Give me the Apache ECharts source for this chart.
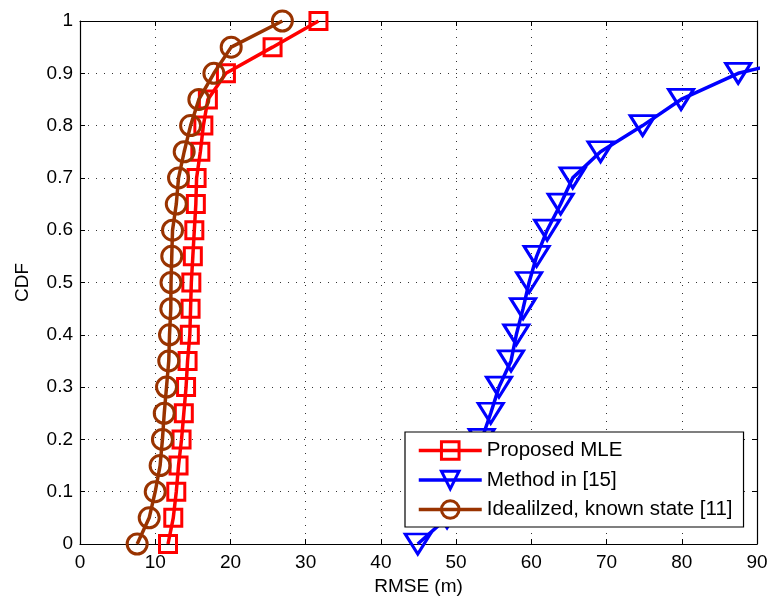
<!DOCTYPE html>
<html>
<head>
<meta charset="utf-8">
<script src="https://cdn.jsdelivr.net/npm/echarts@6/dist/echarts.min.js"></script>
<style>
html,body{margin:0;padding:0;background:#fff;}
#chart{width:771px;height:601px;}
</style>
</head>
<body>
<div id="chart"></div>
<script>
// CDF levels (y values)
var cdfLevels = [0, 0.05, 0.1, 0.15, 0.2, 0.25, 0.3, 0.35, 0.4, 0.45, 0.5, 0.55, 0.6, 0.65, 0.7, 0.75, 0.8, 0.85, 0.9, 0.95, 1];
// RMSE values (x) for each series
var proposedMLE = [11.7, 12.4, 12.8, 13.1, 13.5, 13.8, 14.1, 14.3, 14.6, 14.7, 14.8, 15.0, 15.2, 15.4, 15.5, 16.0, 16.4, 17.0, 19.4, 25.6, 31.7];
var method15 = [44.9, 48.8, 50.5, 52.2, 53.4, 54.6, 55.7, 57.3, 58.0, 58.9, 59.7, 60.7, 62.1, 63.9, 65.5, 69.2, 74.8, 79.9, 87.5, 102, 125];
var idealized11 = [7.6, 9.2, 10.0, 10.65, 10.96, 11.2, 11.5, 11.8, 11.9, 12.07, 12.1, 12.2, 12.3, 12.8, 13.1, 13.85, 14.7, 15.8, 17.8, 20.1, 26.9];
var seriesNames = ['Proposed MLE', 'Method in [15]', 'Idealilzed, known state [11]'];
var xTicks = [0, 10, 20, 30, 40, 50, 60, 70, 80, 90];
var yTicks = [0, 0.1, 0.2, 0.3, 0.4, 0.5, 0.6, 0.7, 0.8, 0.9, 1];

function pairs(xs) {
  return xs.map(function (x, i) { return [x, cdfLevels[i]]; });
}

var FONT = 'Liberation Sans, Arial, Helvetica, sans-serif';
var FS = 19;

var chart = echarts.init(document.getElementById('chart'), null, {renderer: 'canvas'});

var gridLine = {show: true, lineStyle: {type: [1, 7], color: '#333', width: 1}};

var option = {
  animation: false,
  backgroundColor: '#fff',
  grid: {left: 80, right: 14, top: 21, bottom: 55, containLabel: false},
  xAxis: [{
    type: 'value', min: xTicks[0], max: xTicks[xTicks.length - 1], interval: 10,
    name: 'RMSE (m)', nameLocation: 'middle', nameGap: 33,
    nameTextStyle: {fontFamily: FONT, fontSize: FS, color: '#000'},
    axisLine: {show: true, onZero: false, lineStyle: {color: '#000', width: 1.2}},
    axisTick: {show: true, inside: true, length: 5, lineStyle: {color: '#000'}},
    axisLabel: {fontFamily: FONT, fontSize: FS, color: '#000', margin: 9},
    splitLine: gridLine
  }, {
    type: 'value', position: 'top', min: xTicks[0], max: xTicks[xTicks.length - 1], interval: 10,
    axisLine: {show: true, onZero: false, lineStyle: {color: '#000', width: 1.2}},
    axisTick: {show: true, inside: true, length: 5, lineStyle: {color: '#000'}},
    axisLabel: {show: false},
    splitLine: {show: false}
  }],
  yAxis: [{
    type: 'value', min: yTicks[0], max: yTicks[yTicks.length - 1], interval: 0.1,
    name: 'CDF', nameLocation: 'middle', nameGap: 48, nameRotate: 90,
    nameTextStyle: {fontFamily: FONT, fontSize: FS, color: '#000'},
    axisLine: {show: true, onZero: false, lineStyle: {color: '#000', width: 1.2}},
    axisTick: {show: true, inside: true, length: 5, lineStyle: {color: '#000'}},
    axisLabel: {fontFamily: FONT, fontSize: FS, color: '#000', margin: 7,
      formatter: function (v) { return String(Math.round(v * 10) / 10); }},
    splitLine: gridLine
  }, {
    type: 'value', position: 'right', min: yTicks[0], max: yTicks[yTicks.length - 1], interval: 0.1,
    axisLine: {show: true, onZero: false, lineStyle: {color: '#000', width: 1.2}},
    axisTick: {show: true, inside: true, length: 5, lineStyle: {color: '#000'}},
    axisLabel: {show: false},
    splitLine: {show: false}
  }],
  legend: {
    orient: 'vertical', left: 405, top: 432,
    padding: [8, 11, 7, 12], itemGap: 8.5,
    itemWidth: 63, itemHeight: 22,
    backgroundColor: '#fff', borderColor: '#000', borderWidth: 1.2,
    textStyle: {fontFamily: FONT, fontSize: 20.5, color: '#000'},
    lineStyle: {width: 3.5},
    itemStyle: {borderWidth: 3},
    data: seriesNames
  },
  series: [{
    name: seriesNames[0], type: 'line', data: pairs(proposedMLE),
    xAxisIndex: 0, yAxisIndex: 0,
    symbol: 'rect', symbolSize: 17,
    lineStyle: {color: '#ff0000', width: 3.5},
    itemStyle: {color: 'rgba(0,0,0,0)', borderColor: '#ff0000', borderWidth: 3},
    z: 2
  }, {
    name: seriesNames[1], type: 'line', data: pairs(method15),
    xAxisIndex: 0, yAxisIndex: 0,
    symbol: 'triangle', symbolRotate: 180, symbolSize: [25, 20],
    lineStyle: {color: '#0000ff', width: 3.5},
    itemStyle: {color: 'rgba(0,0,0,0)', borderColor: '#0000ff', borderWidth: 3},
    z: 2
  }, {
    name: seriesNames[2], type: 'line', data: pairs(idealized11),
    xAxisIndex: 0, yAxisIndex: 0,
    symbol: 'circle', symbolSize: 20,
    lineStyle: {color: '#993300', width: 3.5},
    itemStyle: {color: 'rgba(0,0,0,0)', borderColor: '#993300', borderWidth: 3},
    z: 3
  }]
};
chart.setOption(option);
</script>
</body>
</html>
